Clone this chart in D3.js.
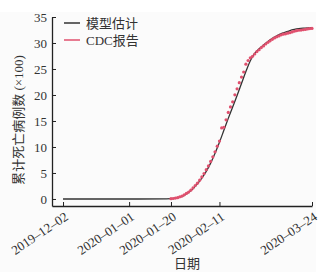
<!DOCTYPE html>
<html>
<head>
<meta charset="utf-8">
<script src="https://cdn.jsdelivr.net/npm/d3@7"></script>
<style>
  body { margin: 0; background: #fff; }
  text { font-family: "Liberation Serif", "Noto Sans CJK SC", serif; fill: #333; }
</style>
</head>
<body>
<svg id="chart"></svg>
<script>
// tick dates on the x axis
const tickDates = ["2019-12-02", "2020-01-01", "2020-01-20", "2020-02-11", "2020-03-24"];
const yTicks = [0, 5, 10, 15, 20, 25, 30, 35];

// model curve (x100 deaths)
const modelDates = [
  "2019-12-02", "2019-12-20", "2020-01-05", "2020-01-18", "2020-01-20", "2020-01-22",
  "2020-01-24", "2020-01-26", "2020-01-28", "2020-01-30", "2020-02-01", "2020-02-03",
  "2020-02-05", "2020-02-07", "2020-02-09", "2020-02-11", "2020-02-13", "2020-02-15",
  "2020-02-17", "2020-02-19", "2020-02-21", "2020-02-23", "2020-02-25", "2020-02-27",
  "2020-02-29", "2020-03-02", "2020-03-04", "2020-03-06", "2020-03-08", "2020-03-10",
  "2020-03-12", "2020-03-14", "2020-03-16", "2020-03-18", "2020-03-20", "2020-03-22",
  "2020-03-24"
];
const modelValues = [
  0, 0, 0, 0.02, 0.05, 0.15,
  0.35, 0.7, 1.25, 2.0, 2.9, 4.0,
  5.3, 6.9, 8.8, 10.9, 13.2, 15.5,
  17.7, 19.9, 22.2, 24.5, 26.6, 28.0,
  28.9, 29.6, 30.3, 30.9, 31.4, 31.8,
  32.1, 32.4, 32.6, 32.75, 32.85, 32.92,
  32.97
];

// CDC reported cumulative deaths (x100), daily from 2020-01-20
const cdcStart = "2020-01-20";
const cdcValues = [
  0.06, 0.09, 0.17, 0.25, 0.41, 0.56, 0.80, 1.06, 1.32, 1.70,
  2.13, 2.59, 3.04, 3.61, 4.25, 4.90, 5.63, 6.36, 7.22, 8.11,
  9.08, 10.16, 11.13, 13.67, 13.80, 15.23, 16.65, 17.70, 18.68, 20.04,
  21.18, 22.36, 23.45, 24.42, 25.92, 26.63, 27.15, 27.44, 27.88, 28.35,
  28.70, 29.12, 29.43, 29.81, 30.12, 30.42, 30.70, 30.97, 31.19, 31.36,
  31.58, 31.69, 31.76, 31.89, 31.99, 32.13, 32.26, 32.37, 32.45, 32.48,
  32.55, 32.61, 32.70, 32.77, 32.81
];

const width = 328, height = 277;
const parse = d3.utcParse("%Y-%m-%d");

const svg = d3.select("#chart").attr("width", width).attr("height", height);
svg.append("rect").attr("x", 0).attr("y", 12).attr("width", 316).attr("height", 260).attr("fill", "#fbfbfb");

const x = d3.scaleUtc()
  .domain([parse("2019-11-27"), parse("2020-03-24")])
  .range([52, 312]);
const y = d3.scaleLinear().domain([-1.35, 35]).range([206, 17]);

const model = modelDates.map((d, i) => ({ date: parse(d), v: modelValues[i] }));
const cdc = cdcValues.map((v, i) => ({ date: d3.utcDay.offset(parse(cdcStart), i), v: v }));

// axes
const gX = svg.append("g").attr("transform", `translate(0,${y.range()[0]})`)
  .call(d3.axisBottom(x).tickValues(tickDates.map(parse)).tickSizeInner(-4).tickSizeOuter(0)
    .tickFormat(d3.utcFormat("%Y–%m–%d")));
gX.selectAll("text")
  .attr("text-anchor", "end")
  .attr("x", 0).attr("y", 0).attr("dy", "0.35em")
  .attr("transform", "translate(3,9) rotate(-34)")
  .style("font-size", "13px");

const gY = svg.append("g").attr("transform", `translate(${x.range()[0]},0)`)
  .call(d3.axisLeft(y).tickValues(yTicks).tickSizeInner(-4).tickSizeOuter(0).tickPadding(5));
gY.selectAll("text").style("font-size", "13px");

svg.selectAll(".domain").attr("stroke", "#222").attr("stroke-width", 1.3);
svg.selectAll(".tick line").attr("stroke", "#222").attr("stroke-width", 1);
svg.selectAll(".tick text").attr("fill", "#333").attr("font-family", "'Liberation Serif', serif");

// model line
const line = d3.line().x(d => x(d.date)).y(d => y(d.v)).curve(d3.curveMonotoneX);
svg.append("path").datum(model)
  .attr("fill", "none").attr("stroke", "#333").attr("stroke-width", 1.3)
  .attr("d", line);

// CDC points
svg.append("g").selectAll("circle").data(cdc).join("circle")
  .attr("cx", d => x(d.date)).attr("cy", d => y(d.v)).attr("r", 1.6)
  .attr("fill", "#e0506e");

// legend
const legend = [{ name: "模型估计", color: "#333" }, { name: "CDC报告", color: "#e0506e" }];
const lg = svg.append("g").selectAll("g").data(legend).join("g")
  .attr("transform", (d, i) => `translate(64,${23 + i * 17})`);
lg.append("line").attr("x1", 0).attr("x2", 16).attr("stroke", d => d.color).attr("stroke-width", 1.5);
lg.append("text").attr("x", 22).attr("dy", "0.35em").style("font-size", "13px").text(d => d.name);

// axis titles
svg.append("text").attr("transform", "translate(18,120) rotate(-90)")
  .attr("text-anchor", "middle").attr("dy", "0.35em").style("font-size", "13px")
  .text("累计死亡病例数 (×100)");
svg.append("text").attr("x", 187).attr("y", 268).attr("text-anchor", "middle")
  .style("font-size", "13px").text("日期");
</script>
</body>
</html>
